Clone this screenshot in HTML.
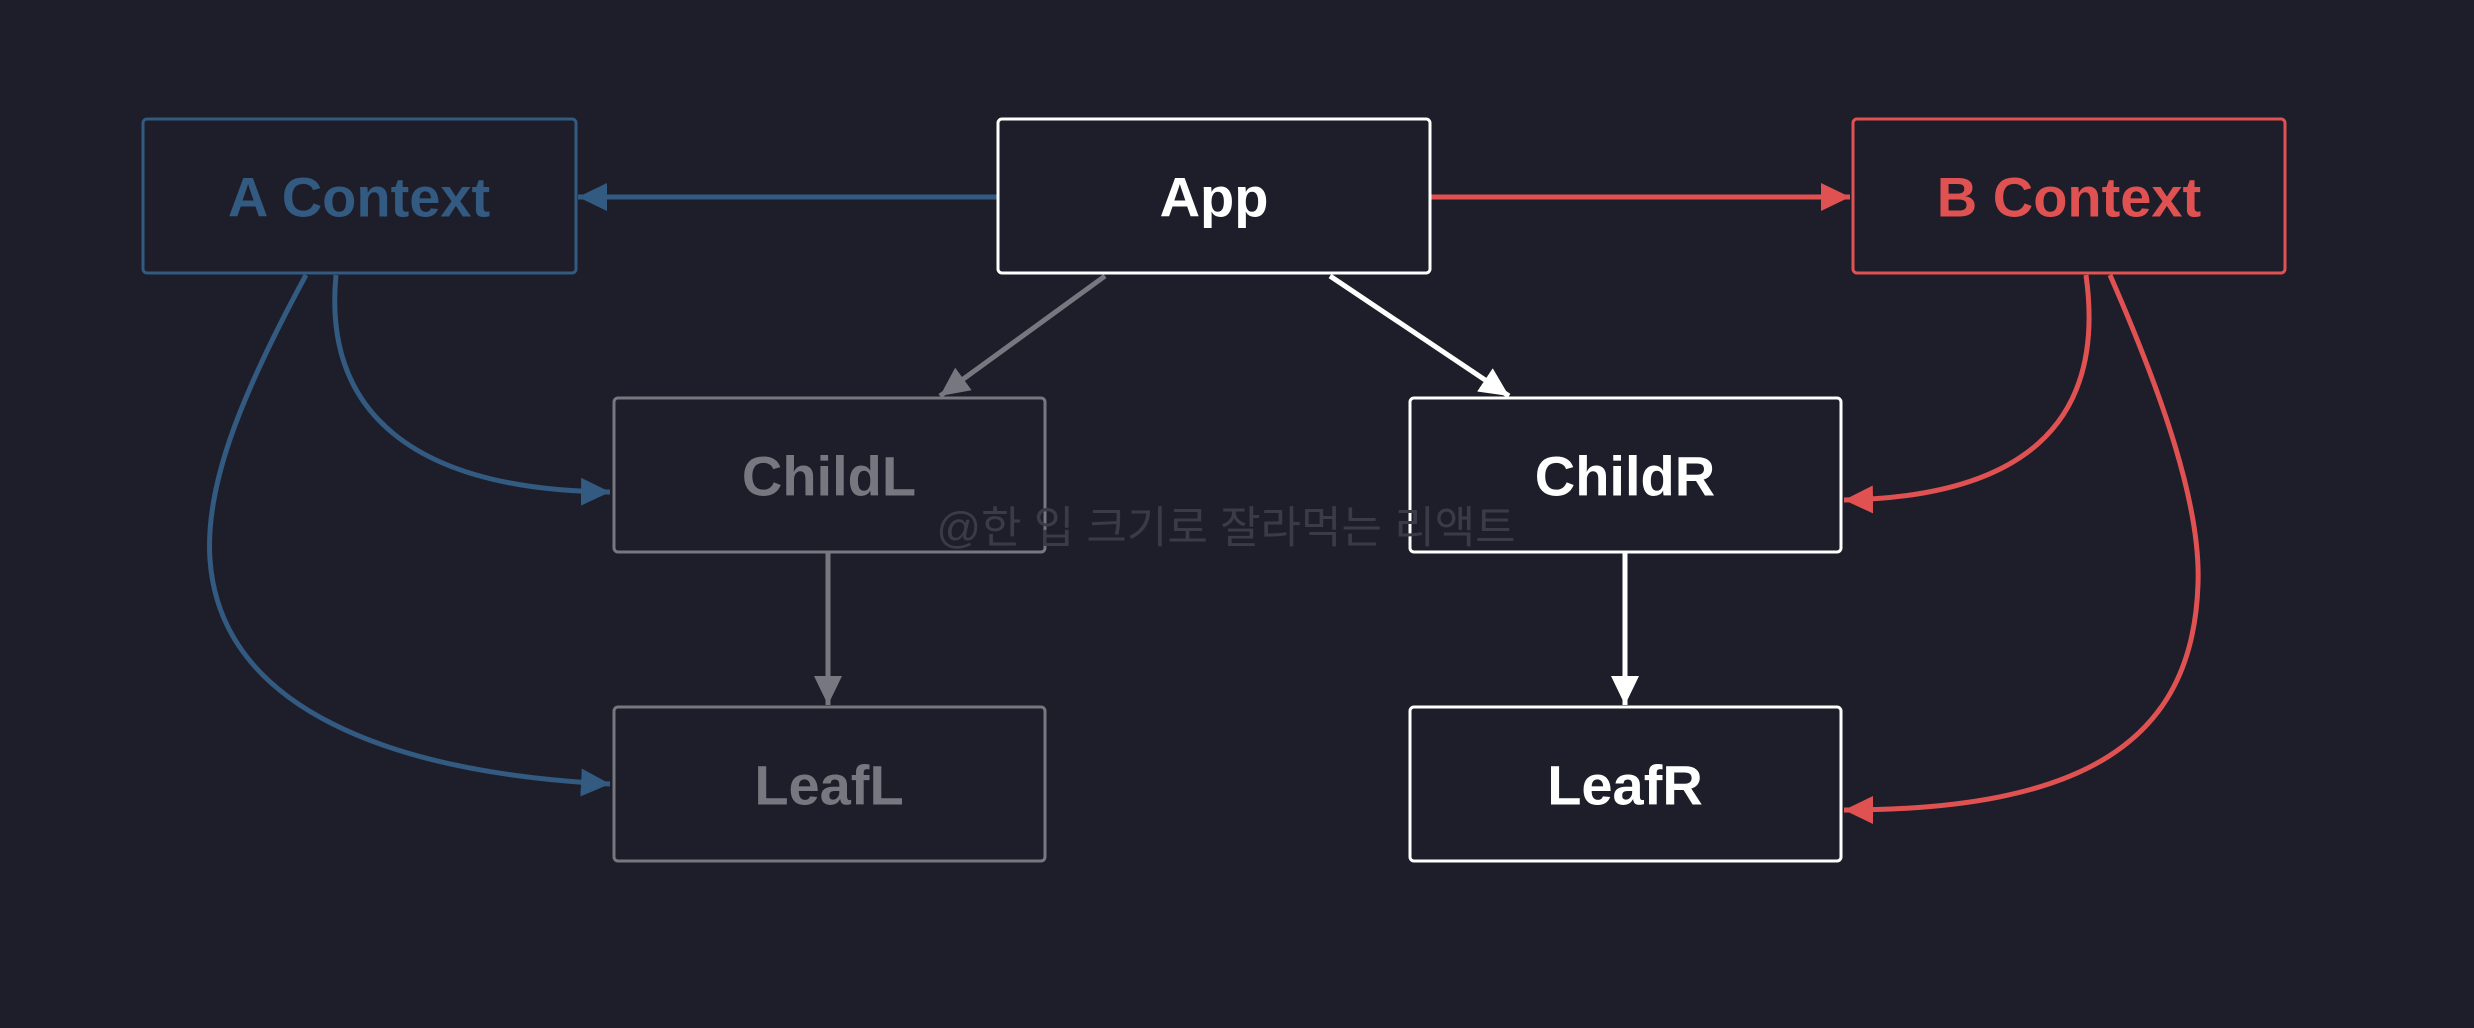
<!DOCTYPE html>
<html><head><meta charset="utf-8"><style>
html,body{margin:0;padding:0;background:#1e1e2b;}
svg{display:block}
text{font-family:"Liberation Sans","Noto Sans CJK KR",sans-serif;font-weight:600;text-anchor:middle;dominant-baseline:central}
text.wm{font-weight:400}
</style></head><body>
<svg width="2474" height="1028" viewBox="0 0 2474 1028" xmlns="http://www.w3.org/2000/svg">
<defs>
<marker id="mb" markerUnits="userSpaceOnUse" markerWidth="32" markerHeight="32" refX="29" refY="14" orient="auto"><path d="M0,0 L29,14 L0,28 Z" fill="#335a80"/></marker>
<marker id="mr" markerUnits="userSpaceOnUse" markerWidth="32" markerHeight="32" refX="29" refY="14" orient="auto"><path d="M0,0 L29,14 L0,28 Z" fill="#e05252"/></marker>
<marker id="mg" markerUnits="userSpaceOnUse" markerWidth="32" markerHeight="32" refX="29" refY="14" orient="auto"><path d="M0,0 L29,14 L0,28 Z" fill="#77777f"/></marker>
<marker id="mw" markerUnits="userSpaceOnUse" markerWidth="32" markerHeight="32" refX="29" refY="14" orient="auto"><path d="M0,0 L29,14 L0,28 Z" fill="#ffffff"/></marker>
</defs>
<g fill="none" stroke-width="5">
<path d="M997,197 L578,197" stroke="#335a80" marker-end="url(#mb)"/>
<path d="M1430,197 L1850,197" stroke="#e05252" marker-end="url(#mr)"/>
<path d="M1105,276 L940,396" stroke="#77777f" marker-end="url(#mg)"/>
<path d="M1330,276 L1509,396" stroke="#ffffff" marker-end="url(#mw)"/>
<path d="M828,552 L828,705" stroke="#77777f" marker-end="url(#mg)"/>
<path d="M1625,552 L1625,705" stroke="#ffffff" marker-end="url(#mw)"/>
<path d="M336,275 C323,410 410,490 610,492" stroke="#335a80" marker-end="url(#mb)"/>
<path d="M306,275 C237,402 205,489 210,560 C221,710 394,773 610,784" stroke="#335a80" marker-end="url(#mb)"/>
<path d="M2086,275 C2107,426 2020,497 1844,500" stroke="#e05252" marker-end="url(#mr)"/>
<path d="M2110,275 C2162,394 2201,505 2198,584 C2193,742 2083,810 1844,810" stroke="#e05252" marker-end="url(#mr)"/>
</g>
<g stroke-width="3" fill="#1e1e2b">
<rect x="143" y="119" width="433" height="154" rx="4" stroke="#335a80"/>
<rect x="998" y="119" width="432" height="154" rx="4" stroke="#ffffff"/>
<rect x="1853" y="119" width="432" height="154" rx="4" stroke="#e05252"/>
<rect x="614" y="398" width="431" height="154" rx="4" stroke="#77777f"/>
<rect x="1410" y="398" width="431" height="154" rx="4" stroke="#ffffff"/>
<rect x="614" y="707" width="431" height="154" rx="4" stroke="#77777f"/>
<rect x="1410" y="707" width="431" height="154" rx="4" stroke="#ffffff"/>
</g>
<g font-size="56">
<text x="359" y="197" fill="#335a80">A Context</text>
<text x="1214" y="197" fill="#ffffff">App</text>
<text x="2069" y="197" fill="#e05252">B Context</text>
<text x="829" y="476" fill="#77777f">ChildL</text>
<text x="1625" y="476" fill="#ffffff">ChildR</text>
<text x="829" y="785" fill="#77777f">LeafL</text>
<text x="1625" y="785" fill="#ffffff">LeafR</text>
</g>
<text class="wm" x="1226" y="528" font-size="44" fill="#3b3b48">@한 입 크기로 잘라먹는 리액트</text>
</svg>
</body></html>
